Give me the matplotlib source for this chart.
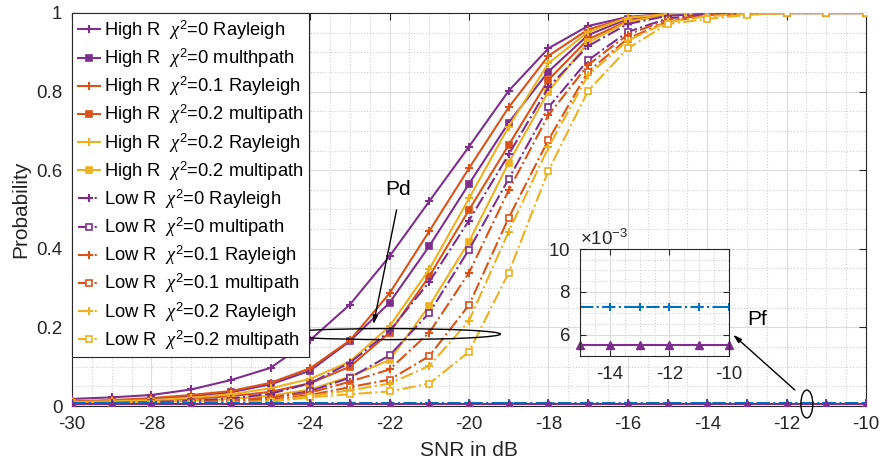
import matplotlib
matplotlib.use('Agg')
import matplotlib.pyplot as plt
from matplotlib.patches import Ellipse
from matplotlib.ticker import MultipleLocator, ScalarFormatter, FixedLocator

plt.rcParams['font.family'] = ['Liberation Sans', 'DejaVu Sans']
plt.rcParams['mathtext.fontset'] = 'custom'
plt.rcParams['mathtext.rm'] = 'Liberation Sans'
plt.rcParams['mathtext.it'] = 'Liberation Serif:italic'
plt.rcParams['mathtext.bf'] = 'Liberation Sans:bold'
plt.rcParams['axes.unicode_minus'] = False

# SNR grid (dB)
snr = [-30, -29, -28, -27, -26, -25, -24, -23, -22, -21, -20,
       -19, -18, -17, -16, -15, -14, -13, -12, -11, -10]

# Detection probability, high resolution
hr_ray_0 = [0.018, 0.022, 0.028, 0.042, 0.066, 0.097, 0.168, 0.258, 0.381, 0.521, 0.660,
            0.802, 0.910, 0.967, 0.990, 0.998, 1.0, 1.0, 1.0, 1.0, 1.0]
hr_mp_0 = [0.010, 0.013, 0.017, 0.024, 0.035, 0.055, 0.090, 0.165, 0.263, 0.407, 0.565,
           0.721, 0.851, 0.944, 0.985, 0.996, 0.999, 1.0, 1.0, 1.0, 1.0]
hr_ray_01 = [0.012, 0.015, 0.020, 0.028, 0.038, 0.059, 0.096, 0.167, 0.287, 0.445, 0.605,
             0.760, 0.891, 0.958, 0.988, 0.997, 1.0, 1.0, 1.0, 1.0, 1.0]
hr_mp_01 = [0.009, 0.011, 0.013, 0.018, 0.025, 0.036, 0.058, 0.100, 0.187, 0.330, 0.499,
            0.664, 0.830, 0.933, 0.980, 0.995, 0.999, 1.0, 1.0, 1.0, 1.0]
hr_ray_02 = [0.010, 0.012, 0.015, 0.021, 0.030, 0.045, 0.069, 0.113, 0.203, 0.348, 0.528,
             0.711, 0.872, 0.952, 0.988, 0.997, 1.0, 1.0, 1.0, 1.0, 1.0]
hr_mp_02 = [0.007, 0.008, 0.010, 0.013, 0.018, 0.026, 0.042, 0.075, 0.117, 0.255, 0.418,
            0.619, 0.800, 0.925, 0.978, 0.995, 0.999, 1.0, 1.0, 1.0, 1.0]

# Detection probability, low resolution
lr_ray_0 = [0.007, 0.008, 0.010, 0.013, 0.019, 0.031, 0.058, 0.110, 0.191, 0.316, 0.472,
            0.640, 0.811, 0.916, 0.972, 0.993, 0.998, 1.0, 1.0, 1.0, 1.0]
lr_mp_0 = [0.005, 0.006, 0.007, 0.009, 0.013, 0.021, 0.038, 0.072, 0.129, 0.237, 0.398,
           0.578, 0.760, 0.880, 0.952, 0.986, 0.996, 0.999, 1.0, 1.0, 1.0]
lr_ray_01 = [0.006, 0.007, 0.008, 0.010, 0.014, 0.021, 0.034, 0.062, 0.093, 0.187, 0.339,
             0.549, 0.740, 0.868, 0.945, 0.983, 0.995, 0.999, 1.0, 1.0, 1.0]
lr_mp_01 = [0.005, 0.006, 0.007, 0.008, 0.011, 0.016, 0.028, 0.048, 0.067, 0.127, 0.257,
            0.479, 0.677, 0.851, 0.935, 0.978, 0.993, 0.998, 1.0, 1.0, 1.0]
lr_ray_02 = [0.005, 0.006, 0.006, 0.007, 0.009, 0.013, 0.025, 0.040, 0.057, 0.102, 0.217,
             0.444, 0.658, 0.842, 0.930, 0.977, 0.992, 0.998, 1.0, 1.0, 1.0]
lr_mp_02 = [0.004, 0.005, 0.005, 0.006, 0.008, 0.011, 0.022, 0.030, 0.037, 0.057, 0.138,
            0.339, 0.599, 0.802, 0.910, 0.972, 0.985, 0.995, 1.0, 1.0, 1.0]

# False-alarm probability
pf_solid = [0.0055, 0.0055, 0.0055, 0.0055, 0.0055, 0.0055, 0.0055, 0.0055, 0.0055, 0.0055, 0.0055,
            0.0055, 0.0055, 0.0055, 0.0055, 0.0055, 0.0055, 0.0055, 0.0055, 0.0055, 0.0055]
pf_dashdot = [0.0073, 0.0073, 0.0073, 0.0073, 0.0073, 0.0073, 0.0073, 0.0073, 0.0073, 0.0073, 0.0073,
              0.0073, 0.0073, 0.0073, 0.0073, 0.0073, 0.0073, 0.0073, 0.0073, 0.0073, 0.0073]

labels = [
    r'High R  $\chi^2$=0 Rayleigh',
    r'High R  $\chi^2$=0 multhpath',
    r'High R  $\chi^2$=0.1 Rayleigh',
    r'High R  $\chi^2$=0.2 multipath',
    r'High R  $\chi^2$=0.2 Rayleigh',
    r'High R  $\chi^2$=0.2 multipath',
    r'Low R  $\chi^2$=0 Rayleigh',
    r'Low R  $\chi^2$=0 multipath',
    r'Low R  $\chi^2$=0.1 Rayleigh',
    r'Low R  $\chi^2$=0.1 multipath',
    r'Low R  $\chi^2$=0.2 Rayleigh',
    r'Low R  $\chi^2$=0.2 multipath',
]
series = [hr_ray_0, hr_mp_0, hr_ray_01, hr_mp_01, hr_ray_02, hr_mp_02,
          lr_ray_0, lr_mp_0, lr_ray_01, lr_mp_01, lr_ray_02, lr_mp_02]

PURPLE = '#7E2F8E'
ORANGE = '#D95319'
YELLOW = '#EDB120'
BLUE = '#0072BD'
colors = [PURPLE, PURPLE, ORANGE, ORANGE, YELLOW, YELLOW] * 2
markers = ['+', 's'] * 6
styles = ['-'] * 6 + ['-.'] * 6

TXT = '#262626'

fig = plt.figure(figsize=(8.84, 4.65), dpi=100)
ax = fig.add_axes([72 / 884, 59 / 465, 794 / 884, 393 / 465])

for i, (vals, lab) in enumerate(zip(series, labels)):
    m = markers[i]
    hollow = (i >= 6 and m == 's')
    ax.plot(snr, vals, linestyle=styles[i], color=colors[i], lw=1.5,
            marker=m, markersize=6 if m == '+' else 5,
            markeredgewidth=1.5 if m == '+' else 1.2,
            markerfacecolor='white' if hollow else colors[i],
            label=lab, zorder=3)

ax.plot(snr, pf_dashdot, linestyle='-.', color=BLUE, lw=1.5, marker='+',
        markersize=6, markeredgewidth=1.5, zorder=3)
ax.plot(snr, pf_solid, linestyle='-', color=PURPLE, lw=1.5, marker='^',
        markersize=6, markerfacecolor=PURPLE, zorder=4)

ax.set_xlim(-30, -10)
ax.set_ylim(0, 1)
ax.set_xticks(range(-30, -9, 2))
ax.set_xticklabels([str(v) for v in range(-30, -9, 2)])
ax.set_yticks([0, 0.2, 0.4, 0.6, 0.8, 1.0])
ax.set_yticklabels(['0', '0.2', '0.4', '0.6', '0.8', '1'])
ax.xaxis.set_minor_locator(MultipleLocator(0.5))
ax.yaxis.set_minor_locator(MultipleLocator(0.05))
ax.tick_params(which='major', direction='in', top=True, right=True, length=5,
               width=0.8, labelsize=13.5, colors=TXT, pad=7)
ax.tick_params(which='minor', length=0)
ax.grid(True, which='major', color='#dcdcdc', lw=0.8, ls='-')
ax.grid(True, which='minor', color='#d0d0d0', lw=0.8, ls=':')
ax.set_axisbelow(True)
for s in ax.spines.values():
    s.set_color(TXT)
    s.set_linewidth(0.8)

ax.set_xlabel('SNR in dB', fontsize=15, color=TXT, labelpad=6)
ax.set_ylabel('Probability', fontsize=15, color=TXT, labelpad=4)

leg = ax.legend(loc='upper left', borderaxespad=0, fontsize=13.2, handlelength=1.2,
                handletextpad=0.25, labelspacing=0.26, borderpad=0.3,
                fancybox=False, framealpha=1, edgecolor=TXT)
leg.get_frame().set_linewidth(0.8)
leg.set_zorder(10)

# Pd annotation
ax.add_patch(Ellipse((-22.02, 0.183), width=5.62, height=0.028, fill=False,
                     ec='black', lw=1.0, zorder=6))
ax.annotate('', xy=(-22.42, 0.201), xytext=(-21.81, 0.506),
            arrowprops=dict(arrowstyle='-|>,head_length=0.5,head_width=0.15',
                            color='black', lw=1.0), zorder=6)
ax.text(-21.79, 0.55, 'Pd', fontsize=15, ha='center', va='center', color='black')

# Pf annotation
ax.add_patch(Ellipse((-11.49, 0.005), width=0.3, height=0.071, fill=False,
                     ec='black', lw=1.0, zorder=6, clip_on=False))
ax.annotate('', xy=(-13.40, 0.186), xytext=(-11.74, 0.036),
            arrowprops=dict(arrowstyle='-|>,head_length=0.5,head_width=0.15',
                            color='black', lw=1.0), zorder=6)
ax.text(-12.75, 0.219, 'Pf', fontsize=15, ha='center', va='center', color='black')

# Zoomed view of the false-alarm curves
axins = fig.add_axes([580 / 884, 109 / 465, 149 / 884, 107 / 465])
axins.plot(snr[15:], pf_dashdot[15:], linestyle='-.', color=BLUE, lw=1.5, marker='+',
           markersize=6, markeredgewidth=1.5)
axins.plot(snr[15:], pf_solid[15:], linestyle='-', color=PURPLE, lw=1.5, marker='^',
           markersize=6, markerfacecolor=PURPLE, clip_on=False)
axins.set_xlim(-15, -10)
axins.set_ylim(0.005, 0.010)
axins.set_xticks([-14, -12, -10])
axins.set_xticklabels(['-14', '-12', '-10'])
axins.yaxis.set_major_locator(FixedLocator([0.006, 0.008, 0.010]))
fmt = ScalarFormatter(useMathText=True)
fmt.set_powerlimits((-3, -3))
axins.yaxis.set_major_formatter(fmt)
axins.yaxis.get_offset_text().set_fontsize(13.5)
axins.yaxis.get_offset_text().set_color(TXT)
axins.xaxis.set_minor_locator(MultipleLocator(0.5))
axins.yaxis.set_minor_locator(MultipleLocator(0.0005))
axins.tick_params(which='major', direction='in', top=True, right=True, length=4,
                  width=0.8, labelsize=13.5, colors=TXT, pad=7)
axins.tick_params(which='minor', length=0)
axins.grid(True, which='major', color='#dcdcdc', lw=0.8, ls='-')
axins.grid(True, which='minor', color='#d0d0d0', lw=0.8, ls=':')
axins.set_axisbelow(True)
for s in axins.spines.values():
    s.set_color(TXT)
    s.set_linewidth(0.8)

fig.savefig('out.png', dpi=100)
